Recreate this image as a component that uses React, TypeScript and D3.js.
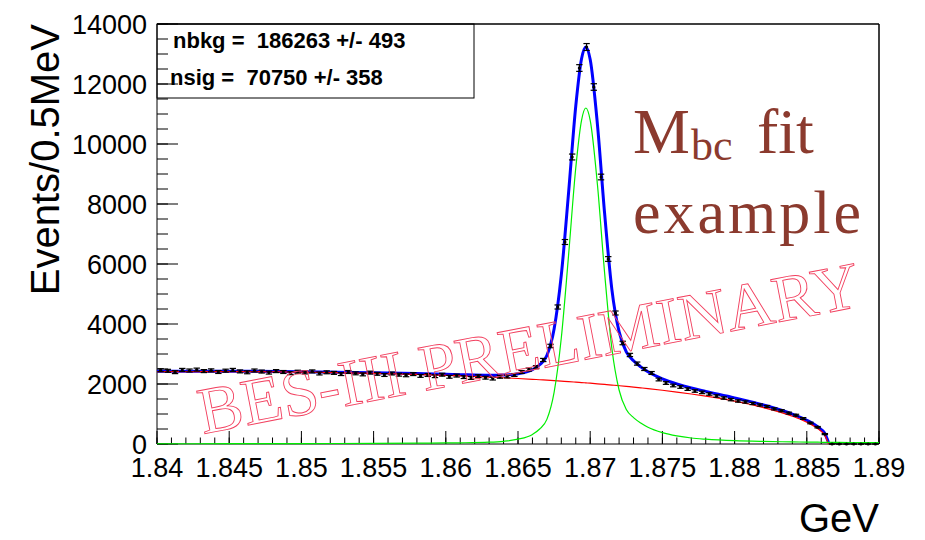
import * as d3 from "d3";

// histogram: 100 bins of 0.5 MeV from 1.84 to 1.89 GeV
const binLow = 1.84;
const binWidth = 0.0005;
const counts = [
  2460, 2440, 2395, 2470, 2450, 2480, 2430, 2455, 2400, 2445,
  2470, 2420, 2390, 2450, 2415, 2380, 2430, 2400, 2360, 2410,
  2385, 2420, 2350, 2390, 2370, 2330, 2400, 2355, 2320, 2380,
  2340, 2300, 2350, 2310, 2290, 2330, 2270, 2300, 2260, 2310,
  2240, 2280, 2230, 2200, 2260, 2210, 2180, 2240, 2250, 2300,
  2400, 2480, 2560, 2800, 3267, 4567, 6733, 9567, 12533, 13233,
  11900, 8900, 6167, 4367, 3367, 2967, 2680, 2500, 2367, 2150,
  2033, 1950, 1900, 1830, 1767, 1720, 1667, 1600, 1533, 1480,
  1433, 1400, 1350, 1300, 1250, 1170, 1110, 1030, 960, 850,
  700, 560, 330, 0, 0, 0, 0, 0, 0, 0,
];

// fit curves sampled off the plot (GeV, events / 0.5 MeV)
const fitMass = [
  1.84, 1.845, 1.85, 1.855, 1.858, 1.86, 1.861, 1.863, 1.864, 1.865,
  1.866, 1.8665, 1.867, 1.8675, 1.868, 1.8685, 1.869, 1.8694, 1.8697, 1.87,
  1.8705, 1.871, 1.8715, 1.872, 1.8725, 1.873, 1.8735, 1.874, 1.875, 1.876,
  1.877, 1.878, 1.88, 1.882, 1.884, 1.885, 1.8855, 1.886, 1.8862, 1.8865,
];
const bkgFit = [
  2415, 2415, 2397, 2357, 2320, 2289, 2271, 2231, 2208, 2184,
  2157, 2142, 2128, 2112, 2096, 2080, 2062, 2048, 2037, 2026,
  2006, 1986, 1965, 1943, 1920, 1897, 1872, 1846, 1791, 1732,
  1666, 1594, 1427, 1215, 927, 726, 596, 424, 329, 0,
];
const totalFit = [
  2423, 2425, 2411, 2377, 2348, 2324, 2311, 2291, 2298, 2344,
  2477, 2642, 2948, 3832, 5636, 8360, 11262, 12839, 13237, 12817,
  10656, 7676, 5155, 3743, 3070, 2777, 2572, 2406, 2171, 2002,
  1866, 1754, 1537, 1300, 997, 790, 657, 482, 386, 56,
];
const sigMass = [...fitMass, 1.888, 1.89];
const sigFit = [
  8, 10, 14, 20, 28, 35, 40, 60, 90, 160,
  320, 500, 820, 1720, 3540, 6280, 9200, 10791, 11200, 10791,
  8650, 5690, 3190, 1800, 1150, 880, 700, 560, 380, 270,
  200, 160, 110, 85, 70, 64, 61, 58, 57, 56,
  50, 45,
];

const xTicks = [1.84, 1.845, 1.85, 1.855, 1.86, 1.865, 1.87, 1.875, 1.88, 1.885, 1.89];
const xTickLabels = ["1.84", "1.845", "1.85", "1.855", "1.86", "1.865", "1.87", "1.875", "1.88", "1.885", "1.89"];
const yTicks = [0, 2000, 4000, 6000, 8000, 10000, 12000, 14000];

const statLines = ["nbkg =  186263 +/- 493", "nsig =  70750 +/- 358"];

export default function App() {
  const W = 925;
  const H = 540;
  const m = { left: 157, right: 879, top: 24, bottom: 444 };

  const x = d3.scaleLinear().domain([1.84, 1.89]).range([m.left, m.right]);
  const y = d3.scaleLinear().domain([0, 14000]).range([m.bottom, m.top]);

  const curve = (xs: number[], ys: number[]) =>
    d3
      .line<number>()
      .x((_, i) => x(xs[i]))
      .y((d) => y(d))
      .curve(d3.curveMonotoneX)(ys) || "";

  const points = counts.map((c, i) => ({
    m: binLow + (i + 0.5) * binWidth,
    n: c,
    err: Math.sqrt(c),
  }));

  const sans = "'Liberation Sans', Arial, Helvetica, sans-serif";
  const serif = "'Liberation Serif', 'Times New Roman', serif";

  return (
    <div style={{ position: "absolute", left: 0, top: 0, width: W, height: H, background: "#fff" }}>
      <svg width={W} height={H} style={{ display: "block" }}>
        <rect width={W} height={H} fill="#fff" />

        {/* stat box */}
        <rect x={m.left} y={m.top} width={317} height={74} fill="#fff" stroke="#000" strokeWidth={1} />
        {statLines.map((s, i) => (
          <text
            key={s}
            x={i === 0 ? 173 : 170}
            y={i === 0 ? 48 : 85}
            fontFamily={sans}
            fontWeight="bold"
            fontSize={22}
            style={{ whiteSpace: "pre" }}
          >
            {s}
          </text>
        ))}

        {/* frame */}
        <line x1={m.left} x2={m.right} y1={m.top} y2={m.top} stroke="#000" strokeWidth={1.5} />
        <line x1={m.right} x2={m.right} y1={m.top} y2={m.bottom} stroke="#000" strokeWidth={1.5} />
        <line x1={m.left} x2={m.left} y1={m.top} y2={m.bottom} stroke="#000" strokeWidth={1} />
        <line x1={m.left} x2={m.right} y1={m.bottom} y2={m.bottom} stroke="#000" strokeWidth={1} />

        {/* x ticks */}
        {x.ticks(50).map((t) => (
          <line key={"xm" + t} x1={x(t)} x2={x(t)} y1={m.bottom} y2={m.bottom - 6.5} stroke="#000" />
        ))}
        {xTicks.map((t, i) => (
          <g key={"x" + t}>
            <line x1={x(t)} x2={x(t)} y1={m.bottom} y2={m.bottom - 13} stroke="#000" />
            <text x={x(t)} y={477} textAnchor="middle" fontFamily={sans} fontSize={27}>
              {xTickLabels[i]}
            </text>
          </g>
        ))}

        {/* y ticks */}
        {y.ticks(28).map((t) => (
          <line key={"ym" + t} x1={m.left} x2={m.left + 11} y1={y(t)} y2={y(t)} stroke="#000" />
        ))}
        {yTicks.map((t) => (
          <g key={"y" + t}>
            <line x1={m.left} x2={m.left + 21} y1={y(t)} y2={y(t)} stroke="#000" />
            <text x={147} y={y(t) + 9.5} textAnchor="end" fontFamily={sans} fontSize={27}>
              {t}
            </text>
          </g>
        ))}

        {/* axis titles */}
        <text
          transform="translate(59,24) rotate(-90)"
          textAnchor="end"
          fontFamily={sans}
          fontSize={40}
        >
          Events/0.5MeV
        </text>
        <text x={879} y={532} textAnchor="end" fontFamily={sans} fontSize={40}>
          GeV
        </text>

        {/* fit curves */}
        <path d={curve(fitMass, totalFit)} fill="none" stroke="#0000ff" strokeWidth={3} />
        <path d={curve(fitMass, bkgFit)} fill="none" stroke="#ff0000" strokeWidth={1.2} />
        <path d={curve(sigMass, sigFit)} fill="none" stroke="#00ee00" strokeWidth={1.2} />

        {/* data */}
        {points.map((p, i) => {
          const cx = x(p.m);
          const y0 = y(p.n + p.err);
          const y1 = y(p.n - p.err);
          return (
            <g key={"p" + i} stroke="#000" strokeWidth={1.2}>
              <line x1={cx} x2={cx} y1={y0} y2={y1} />
              <line x1={cx - 3.2} x2={cx + 3.2} y1={y0} y2={y0} />
              <line x1={cx - 3.2} x2={cx + 3.2} y1={y1} y2={y1} />
              <circle cx={cx} cy={y(p.n)} r={1.6} fill="#000" stroke="none" />
            </g>
          );
        })}

        {/* annotation */}
        <text fontFamily={serif} fill="#8b3a2e">
          <tspan x={633} y={153} fontSize={64}>M</tspan>
          <tspan x={691} y={160} fontSize={44}>bc</tspan>
          <tspan x={757} y={153} fontSize={64}>fit</tspan>
        </text>
        <text x={633} y={233} fontFamily={serif} fontSize={62} fill="#8b3a2e" letterSpacing={3}>
          example
        </text>

        {/* watermark */}
        <text
          transform="translate(203,434) rotate(-11)"
          fontFamily={serif}
          fontSize={66}
          fill="none"
          stroke="#f2405f"
          strokeWidth={0.9}
        >
          BES-III PRELIMINARY
        </text>
      </svg>
    </div>
  );
}
